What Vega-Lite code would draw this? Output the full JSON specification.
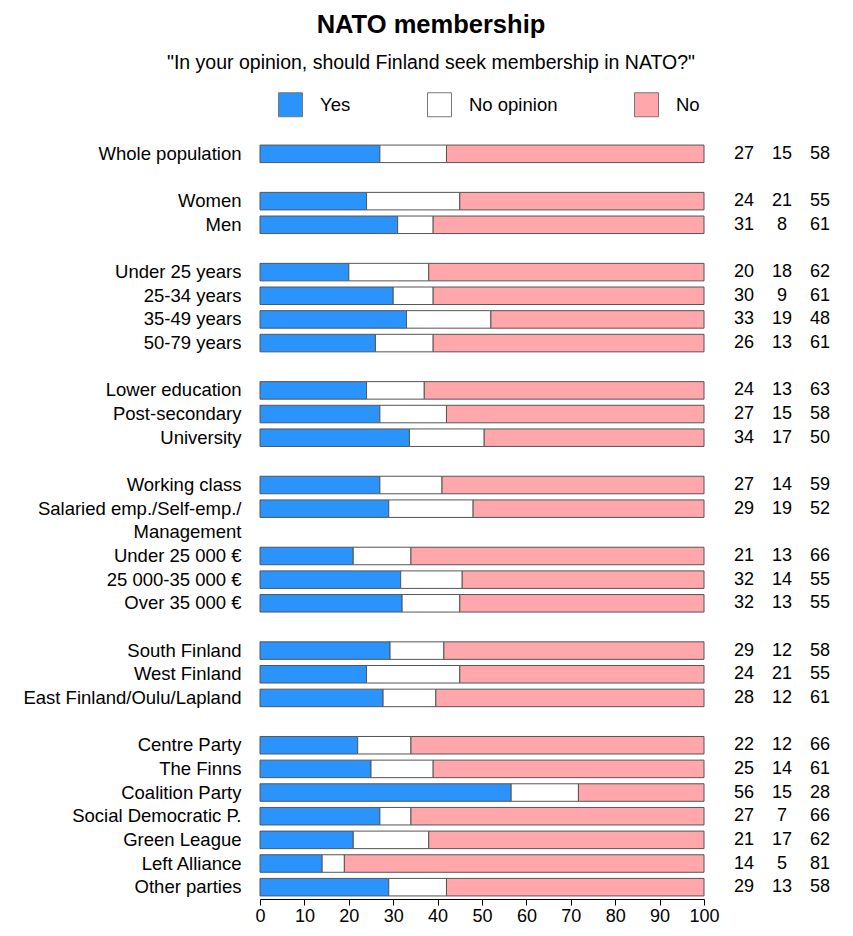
{
  "$schema": "https://vega.github.io/schema/vega-lite/v6.json",
  "padding": {"left": 22, "top": 13, "right": 5, "bottom": 5},
  "title": {
    "text": "NATO membership",
    "subtitle": "\"In your opinion, should Finland seek membership in NATO?\"",
    "anchor": "middle",
    "fontSize": 25.5,
    "fontWeight": "bold",
    "subtitleFontSize": 19.5,
    "subtitlePadding": 15,
    "offset": 20,
    "color": "black",
    "subtitleColor": "black",
    "font": "Liberation Sans",
    "subtitleFont": "Liberation Sans"
  },
  "data": {
    "values": [
      {"g": "Whole population", "a": "Yes", "v": 27}, {"g": "Whole population", "a": "No opinion", "v": 15}, {"g": "Whole population", "a": "No", "v": 58},
      {"g": "Women", "a": "Yes", "v": 24}, {"g": "Women", "a": "No opinion", "v": 21}, {"g": "Women", "a": "No", "v": 55},
      {"g": "Men", "a": "Yes", "v": 31}, {"g": "Men", "a": "No opinion", "v": 8}, {"g": "Men", "a": "No", "v": 61},
      {"g": "Under 25 years", "a": "Yes", "v": 20}, {"g": "Under 25 years", "a": "No opinion", "v": 18}, {"g": "Under 25 years", "a": "No", "v": 62},
      {"g": "25-34 years", "a": "Yes", "v": 30}, {"g": "25-34 years", "a": "No opinion", "v": 9}, {"g": "25-34 years", "a": "No", "v": 61},
      {"g": "35-49 years", "a": "Yes", "v": 33}, {"g": "35-49 years", "a": "No opinion", "v": 19}, {"g": "35-49 years", "a": "No", "v": 48},
      {"g": "50-79 years", "a": "Yes", "v": 26}, {"g": "50-79 years", "a": "No opinion", "v": 13}, {"g": "50-79 years", "a": "No", "v": 61},
      {"g": "Lower education", "a": "Yes", "v": 24}, {"g": "Lower education", "a": "No opinion", "v": 13}, {"g": "Lower education", "a": "No", "v": 63},
      {"g": "Post-secondary", "a": "Yes", "v": 27}, {"g": "Post-secondary", "a": "No opinion", "v": 15}, {"g": "Post-secondary", "a": "No", "v": 58},
      {"g": "University", "a": "Yes", "v": 34}, {"g": "University", "a": "No opinion", "v": 17}, {"g": "University", "a": "No", "v": 50},
      {"g": "Working class", "a": "Yes", "v": 27}, {"g": "Working class", "a": "No opinion", "v": 14}, {"g": "Working class", "a": "No", "v": 59},
      {"g": "Salaried emp./Self-emp./", "a": "Yes", "v": 29}, {"g": "Salaried emp./Self-emp./", "a": "No opinion", "v": 19}, {"g": "Salaried emp./Self-emp./", "a": "No", "v": 52},
      {"g": "Under 25 000 €", "a": "Yes", "v": 21}, {"g": "Under 25 000 €", "a": "No opinion", "v": 13}, {"g": "Under 25 000 €", "a": "No", "v": 66},
      {"g": "25 000-35 000 €", "a": "Yes", "v": 32}, {"g": "25 000-35 000 €", "a": "No opinion", "v": 14}, {"g": "25 000-35 000 €", "a": "No", "v": 55},
      {"g": "Over 35 000 €", "a": "Yes", "v": 32}, {"g": "Over 35 000 €", "a": "No opinion", "v": 13}, {"g": "Over 35 000 €", "a": "No", "v": 55},
      {"g": "South Finland", "a": "Yes", "v": 29}, {"g": "South Finland", "a": "No opinion", "v": 12}, {"g": "South Finland", "a": "No", "v": 58},
      {"g": "West Finland", "a": "Yes", "v": 24}, {"g": "West Finland", "a": "No opinion", "v": 21}, {"g": "West Finland", "a": "No", "v": 55},
      {"g": "East Finland/Oulu/Lapland", "a": "Yes", "v": 28}, {"g": "East Finland/Oulu/Lapland", "a": "No opinion", "v": 12}, {"g": "East Finland/Oulu/Lapland", "a": "No", "v": 61},
      {"g": "Centre Party", "a": "Yes", "v": 22}, {"g": "Centre Party", "a": "No opinion", "v": 12}, {"g": "Centre Party", "a": "No", "v": 66},
      {"g": "The Finns", "a": "Yes", "v": 25}, {"g": "The Finns", "a": "No opinion", "v": 14}, {"g": "The Finns", "a": "No", "v": 61},
      {"g": "Coalition Party", "a": "Yes", "v": 56}, {"g": "Coalition Party", "a": "No opinion", "v": 15}, {"g": "Coalition Party", "a": "No", "v": 28},
      {"g": "Social Democratic P.", "a": "Yes", "v": 27}, {"g": "Social Democratic P.", "a": "No opinion", "v": 7}, {"g": "Social Democratic P.", "a": "No", "v": 66},
      {"g": "Green League", "a": "Yes", "v": 21}, {"g": "Green League", "a": "No opinion", "v": 17}, {"g": "Green League", "a": "No", "v": 62},
      {"g": "Left Alliance", "a": "Yes", "v": 14}, {"g": "Left Alliance", "a": "No opinion", "v": 5}, {"g": "Left Alliance", "a": "No", "v": 81},
      {"g": "Other parties", "a": "Yes", "v": 29}, {"g": "Other parties", "a": "No opinion", "v": 13}, {"g": "Other parties", "a": "No", "v": 58}
    ]
  },
  "spacing": 5,
  "hconcat": [
    {
      "width": 444,
      "height": 757,
      "mark": {"type": "bar", "stroke": "#555", "strokeWidth": 1},
      "encoding": {
        "y": {
          "field": "g",
          "type": "nominal",
          "scale": {
            "domain": ["Whole population", " ", "Women", "Men", "  ", "Under 25 years", "25-34 years", "35-49 years", "50-79 years", "   ", "Lower education", "Post-secondary", "University", "    ", "Working class", "Salaried emp./Self-emp./", "Management", "Under 25 000 €", "25 000-35 000 €", "Over 35 000 €", "     ", "South Finland", "West Finland", "East Finland/Oulu/Lapland", "      ", "Centre Party", "The Finns", "Coalition Party", "Social Democratic P.", "Green League", "Left Alliance", "Other parties"],
            "paddingInner": 0.26,
            "paddingOuter": 0.13
          },
          "axis": {"title": null, "ticks": false, "domain": false, "labelFontSize": 18.5, "labelPadding": 19, "labelLimit": 300, "labelColor": "black"}
        },
        "x": {
          "field": "v",
          "type": "quantitative",
          "stack": "normalize",
          "scale": {"domain": [0, 1], "nice": false},
          "axis": {"title": null, "values": [0, 0.1, 0.2, 0.3, 0.4, 0.5, 0.6, 0.7, 0.8, 0.9, 1], "labelExpr": "round(datum.value*100)", "grid": false, "tickSize": 6, "domainColor": "black", "tickColor": "black", "labelFontSize": 18, "labelPadding": 2, "labelFlush": false, "labelColor": "black"}
        },
        "order": {"field": "a", "sort": "descending"},
        "color": {
          "field": "a",
          "type": "nominal",
          "sort": ["Yes", "No opinion", "No"],
          "scale": {"domain": ["Yes", "No opinion", "No"], "range": ["#2A93FC", "#FFFFFF", "#FFA7AB"]},
          "legend": {
            "title": null,
            "orient": "none",
            "direction": "horizontal",
            "legendX": 18,
            "legendY": -50,
            "symbolType": "square",
            "symbolSize": 576,
            "symbolStrokeColor": "#777",
            "symbolStrokeWidth": 1,
            "labelFontSize": 18.5,
            "labelOffset": 17,
            "columnPadding": 74,
            "labelColor": "black"
          }
        }
      }
    },
    {
      "width": 114,
      "height": 757,
      "mark": {"type": "text", "fontSize": 18, "color": "black"},
      "encoding": {
        "y": {
          "field": "g",
          "type": "nominal",
          "scale": {
            "domain": ["Whole population", " ", "Women", "Men", "  ", "Under 25 years", "25-34 years", "35-49 years", "50-79 years", "   ", "Lower education", "Post-secondary", "University", "    ", "Working class", "Salaried emp./Self-emp./", "Management", "Under 25 000 €", "25 000-35 000 €", "Over 35 000 €", "     ", "South Finland", "West Finland", "East Finland/Oulu/Lapland", "      ", "Centre Party", "The Finns", "Coalition Party", "Social Democratic P.", "Green League", "Left Alliance", "Other parties"],
            "paddingInner": 0.26,
            "paddingOuter": 0.13
          },
          "axis": null
        },
        "x": {
          "field": "a",
          "type": "nominal",
          "scale": {"domain": ["Yes", "No opinion", "No"], "paddingInner": 0, "paddingOuter": 0},
          "axis": null
        },
        "text": {"field": "v", "type": "quantitative"}
      }
    }
  ],
  "resolve": {"scale": {"y": "shared", "x": "independent"}},
  "config": {
    "view": {"stroke": null},
    "font": "Liberation Sans"
  }
}
